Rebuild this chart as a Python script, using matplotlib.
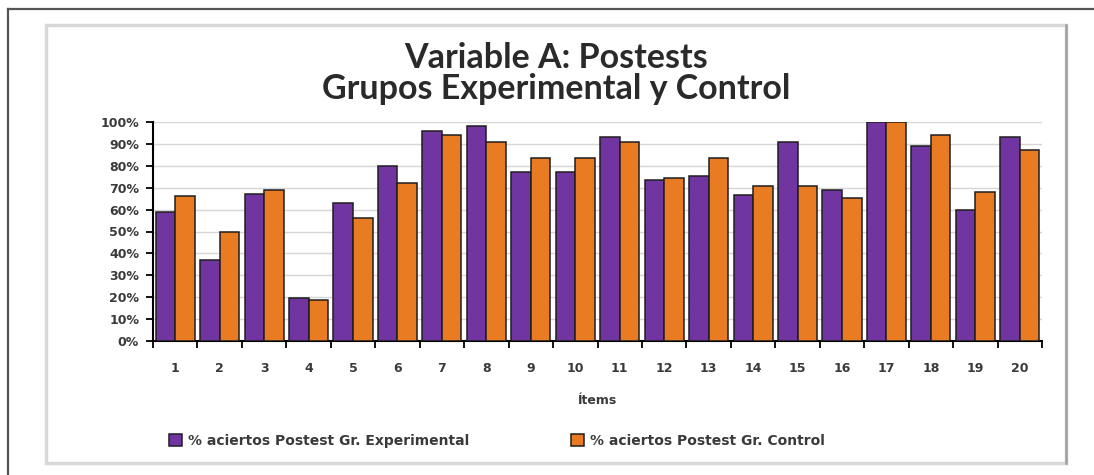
import matplotlib.pyplot as plt
from matplotlib.patches import Rectangle
from matplotlib.lines import Line2D
import numpy as np

# datos
items = [str(i) for i in range(1, 21)]
experimental = [59, 37, 67, 19.5, 63, 80, 96, 98, 77, 77, 93, 73.5, 75.5, 66.5, 91, 69, 100, 89, 60, 93]
control = [66, 50, 69, 18.5, 56, 72, 94, 91, 83.5, 83.5, 91, 74.5, 83.5, 71, 71, 65.5, 100, 94, 68, 87]
yticks = [0, 10, 20, 30, 40, 50, 60, 70, 80, 90, 100]

color_exp = '#7035A0'
color_ctl = '#E97C23'
txt = '#3a3a3a'

W, H = 1094, 475
fig = plt.figure(figsize=(W / 100, H / 100), dpi=100)

# marco exterior (solo arriba e izquierda)
fig.add_artist(Line2D([8 / W, 8 / W], [0, 1 - 9 / H], transform=fig.transFigure, color='#555555', lw=1.6))
fig.add_artist(Line2D([8 / W, 1], [1 - 9 / H, 1 - 9 / H], transform=fig.transFigure, color='#555555', lw=1.6))

# caja del gráfico con sombra
fig.add_artist(Rectangle((46 / W, 1 - 463 / H), (1066 - 46) / W, (463 - 25) / H,
                         transform=fig.transFigure, facecolor='white', edgecolor='#d8d8d8', lw=2.5,
                         zorder=-2))
fig.add_artist(Line2D([1066 / W, 1066 / W], [1 - 463 / H, 1 - 25 / H], transform=fig.transFigure,
                      color='#a0a0a0', lw=1.8, zorder=-1))

ax = fig.add_axes([153 / W, 1 - 341 / H, (1042 - 153) / W, (341 - 122) / H])
ax.set_facecolor('none')

x = np.arange(1, len(items) + 1)
w = 0.44
b1 = ax.bar(x - w / 2, experimental, w, color=color_exp, edgecolor='#1e1e1e', lw=1.1, zorder=3)
b2 = ax.bar(x + w / 2, control, w, color=color_ctl, edgecolor='#1e1e1e', lw=1.1, zorder=3)

ax.set_xlim(0.5, 20.5)
ax.set_ylim(0, 100)
ax.set_yticks(yticks)
ax.set_yticklabels([f'{v}%' for v in yticks], fontsize=9, fontweight='bold', color=txt)
ax.set_xticks(x)
ax.set_xticklabels(items, fontsize=9, fontweight='bold', color=txt)
ax.set_xticks(np.arange(0.5, 21, 1), minor=True)
ax.tick_params(axis='x', which='major', length=0, pad=15)
ax.tick_params(axis='x', which='minor', length=5, width=1.3, direction='out')
ax.tick_params(axis='y', length=5, width=1.3, direction='out', pad=5)

ax.grid(axis='y', color='#d6d6d6', lw=1.0, zorder=0)
for s in ['top', 'right']:
    ax.spines[s].set_visible(False)
ax.spines['left'].set_linewidth(1.5)
ax.spines['bottom'].set_linewidth(1.5)

ax.set_xlabel('Ítems', fontsize=9, fontweight='bold', color=txt, labelpad=14)

fig.text(556 / W, 1 - 58 / H, 'Variable A: Postests', ha='center', va='center',
         fontsize=24.5, fontweight='bold', family='Lato', color='#2a2a2a')
fig.text(556 / W, 1 - 89 / H, 'Grupos Experimental y Control', ha='center', va='center',
         fontsize=24.5, fontweight='bold', family='Lato', color='#2a2a2a')

leg_kw = dict(loc='center left', bbox_transform=fig.transFigure, frameon=False, borderpad=0,
              borderaxespad=0, handlelength=0.9, handleheight=0.9, handletextpad=0.45,
              prop={'size': 10, 'weight': 'bold'}, labelcolor=txt)
leg1 = ax.legend([b1], ['% aciertos Postest Gr. Experimental'],
                 bbox_to_anchor=(169 / W, 1 - 441 / H), **leg_kw)
ax.add_artist(leg1)
ax.legend([b2], ['% aciertos Postest Gr. Control'],
          bbox_to_anchor=(571 / W, 1 - 441 / H), **leg_kw)

fig.savefig('out.png', dpi=100)
